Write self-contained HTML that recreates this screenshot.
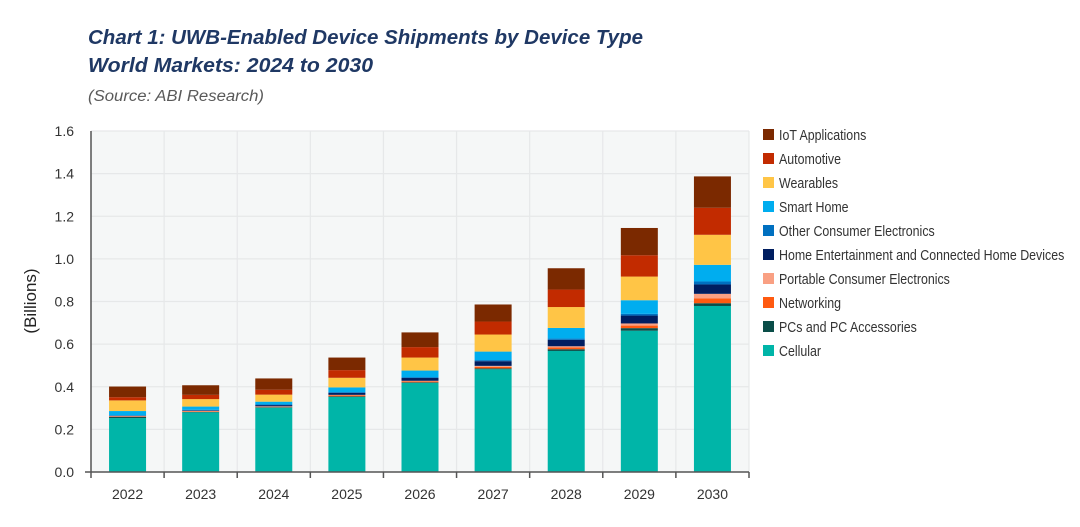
<!DOCTYPE html>
<html><head><meta charset="utf-8"><style>
body{margin:0;background:#fff;width:1080px;height:522px;overflow:hidden;font-family:"Liberation Sans",sans-serif}
</style></head><body>
<svg id="c" width="1080" height="522" xmlns="http://www.w3.org/2000/svg">
<text x="88" y="44" font-size="20.5" font-weight="bold" font-style="italic" fill="#1f3864" textLength="555" lengthAdjust="spacingAndGlyphs">Chart 1: UWB-Enabled Device Shipments by Device Type</text>
<text x="88" y="72" font-size="20.5" font-weight="bold" font-style="italic" fill="#1f3864" textLength="285" lengthAdjust="spacingAndGlyphs">World Markets: 2024 to 2030</text>
<text x="88" y="101" font-size="15.5" font-style="italic" fill="#595959" textLength="176" lengthAdjust="spacingAndGlyphs">(Source: ABI Research)</text>
<rect x="91" y="131" width="658" height="341" fill="#f5f7f7"/>
<g id="grid"></g><g id="bars"></g><g id="axes"></g><g id="legend"></g>
<text transform="translate(36,301) rotate(-90)" text-anchor="middle" font-size="17" fill="#222">(Billions)</text>
</svg>
<script>
const categories=["2022","2023","2024","2025","2026","2027","2028","2029","2030"];
const seriesNames=["Cellular","PCs and PC Accessories","Networking","Portable Consumer Electronics","Home Entertainment and Connected Home Devices","Other Consumer Electronics","Smart Home","Wearables","Automotive","IoT Applications"];
const colors=["#00b5a8","#0a4d48","#ff5a10","#f9a083","#001e60","#0070c0","#00adef","#ffc546","#c22b00","#7b2900"];
const cellular=[0.253,0.280,0.302,0.352,0.418,0.482,0.568,0.663,0.779];
const pcs=[0.005,0.002,0.002,0.003,0.003,0.004,0.008,0.012,0.013];
const networking=[0.002,0.003,0.002,0.004,0.004,0.007,0.008,0.012,0.022];
const portable=[0.002,0.002,0.002,0.003,0.003,0.005,0.006,0.010,0.022];
const homeEnt=[0.002,0.002,0.006,0.009,0.013,0.022,0.030,0.037,0.044];
const otherCE=[0.002,0.003,0.003,0.004,0.004,0.005,0.006,0.008,0.014];
const smartHome=[0.020,0.015,0.013,0.022,0.031,0.040,0.050,0.064,0.078];
const wearables=[0.050,0.035,0.033,0.045,0.061,0.080,0.098,0.111,0.141];
const automotive=[0.015,0.020,0.023,0.036,0.049,0.061,0.082,0.100,0.127];
const iot=[0.050,0.045,0.053,0.059,0.069,0.080,0.100,0.128,0.147];
const yTicks=["0.0","0.2","0.4","0.6","0.8","1.0","1.2","1.4","1.6"];
const series=[cellular,pcs,networking,portable,homeEnt,otherCE,smartHome,wearables,automotive,iot];
const NS="http://www.w3.org/2000/svg";
const X0=91,X1=749,Y0=472,Y1=131,YMAX=1.6;
const band=(X1-X0)/categories.length;
const y=v=>Y0-(v/YMAX)*(Y0-Y1);
const xc=i=>X0+band*(i+0.5);
function mk(t,a,p){const e=document.createElementNS(NS,t);for(const k in a)e.setAttribute(k,a[k]);p.appendChild(e);return e;}
const g=document.getElementById('grid');
yTicks.forEach((t,i)=>{const v=parseFloat(t);if(v>0){const l=mk('line',{x1:X0,x2:X1,y1:y(v),y2:y(v),stroke:'#e6e8e9','stroke-width':1.2},g);}
const tx=mk('text',{x:74,y:y(v)+5,'text-anchor':'end','font-size':14,fill:'#333'},g);tx.textContent=t;});
for(let i=1;i<=categories.length;i++){const xx=X0+band*i;const l=mk('line',{x1:xx,x2:xx,y1:Y1,y2:Y0,stroke:'#e6e8e9','stroke-width':1.2},g);}
const b=document.getElementById('bars');
categories.forEach((c,i)=>{let acc=0;series.forEach((s,k)=>{const v=s[i];const r=mk('rect',{x:xc(i)-18.5,y:y(acc+v),width:37,height:y(acc)-y(acc+v),fill:colors[k]},b);acc+=v;});
const tx=mk('text',{x:xc(i),y:499,'text-anchor':'middle','font-size':14,fill:'#333'},b);tx.textContent=c;});
const a=document.getElementById('axes');
let l=mk('line',{x1:X0,x2:X0,y1:Y1,y2:Y0,stroke:'#555','stroke-width':1.5},a);
l=mk('line',{x1:X0-6,x2:X1,y1:Y0,y2:Y0,stroke:'#555','stroke-width':1.5},a);
for(let i=0;i<=categories.length;i++){const xx=X0+band*i;const t=mk('line',{x1:xx,x2:xx,y1:Y0,y2:Y0+6,stroke:'#555','stroke-width':1.5},a);}
const lg=document.getElementById('legend');
for(let j=0;j<10;j++){const k=9-j;const yy=135+24*j;
const r=mk('rect',{x:763,y:yy-6,width:11,height:11,fill:colors[k]},lg);
const tx=mk('text',{x:779,y:yy+5,'font-size':14.5,fill:'#333'},lg);tx.textContent=seriesNames[k];
const w=tx.getComputedTextLength();tx.setAttribute('textLength',w*0.855);tx.setAttribute('lengthAdjust','spacingAndGlyphs');}
</script>
</body></html>
